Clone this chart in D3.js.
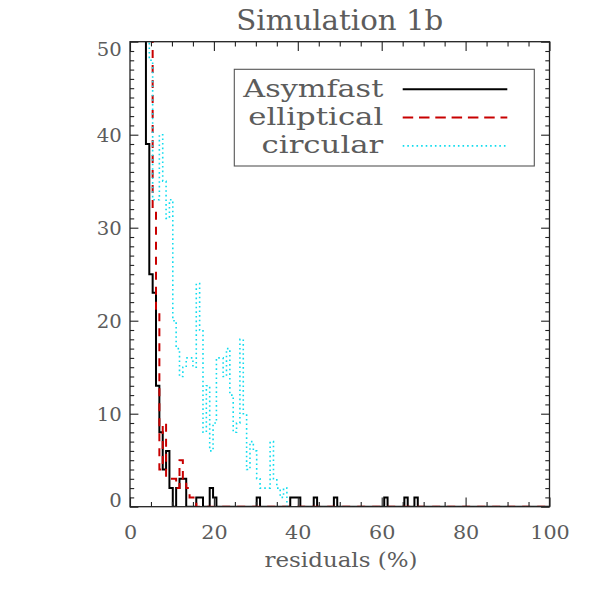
<!DOCTYPE html>
<html><head><meta charset="utf-8">
<script src="https://cdn.jsdelivr.net/npm/d3@7"></script>
<style>body{margin:0;background:#fff}</style>
</head><body>
<svg id="c" width="591" height="591"></svg>
<script>
// ---- data ----
const title = "Simulation 1b";
const xLabel = "residuals (%)";
const seriesNames = ["Asymfast", "elliptical", "circular"];
const binOrigin = 0.6;   // left edge of first histogram bin (%)
const binWidth = 0.8;    // histogram bin width (%)
const asymfast = [
  55,55,55,55,39,25,23,13,8,4,
  6,2,0,2,3,3,0,0,0,1,
  1,0,0,2,1,0,0,0,0,0,
  0,0,0,0,0,0,0,1,0,0,
  0,0,0,0,0,0,0,1,1,1,
  0,0,0,0,1,0,0,0,0,0,
  1,0,0,0,0,0,0,0,0,0,
  0,0,0,0,0,1,0,0,0,0,
  0,1,0,0,1,0,0,0,0,0,
  0,0,0,0,0,0,0,0,0,0,
  0,0,0,0,0,0,0,0,0,0,
  0,0,0,0,0,0,0,0,0,0,
  0,0,0,0,0
];
const elliptical = [
  55,55,55,55,55,55,32,21,4,9,
  3,3,3,2,5,3,2,1,1,0,
  0,0,0,0,0,0,0,0,0,0,
  0,0,0,0,0,0,0,0,0,0,
  0,0,0,0,0,0,0,0,0,0,
  0,0,0,0,0,0,0,0,0,0,
  0,0,0,0,0,0,0,0,0,0,
  0,0,0,0,0,0,0,0,0,0,
  0,0,0,0,0,0,0,0,0,0,
  0,0,0,0,0,0,0,0,0,0,
  0,0,0,0,0,0,0,0,0,0,
  0,0,0,0,0,0,0,0,0,0,
  0,0,0,0,0
];
const circular = [
  55,55,55,55,55,48,33,33,40,35,
  31,33,20,17,14,15,16,16,15,24,
  19,8,13,6,9,16,16,14,17,12,
  8,9,18,10,4,7,6,3,2,2,
  2,7,3,2,1,2,0,0,0,0,
  0,0,0,0,0,0,0,0,0,0,
  0,0,0,0,0,0,0,0,0,0,
  0,0,0,0,0,0,0,0,0,0,
  0,0,0,0,0,0,0,0,0,0,
  0,0,0,0,0,0,0,0,0,0,
  0,0,0,0,0,0,0,0,0,0,
  0,0,0,0,0,0,0,0,0,0,
  0,0,0,0,0
];
const xTicks = [0, 20, 40, 60, 80, 100];
const xMinorTicks = [5,10,15,25,30,35,45,50,55,65,70,75,85,90,95];
const yTicks = [0, 10, 20, 30, 40, 50];
const yMinorTicks = [1,2,3,4,5,6,7,8,9,11,12,13,14,15,16,17,18,19,21,22,23,24,25,26,27,28,29,
                     31,32,33,34,35,36,37,38,39,41,42,43,44,45,46,47,48,49];

// ---- drawing ----
const FONT = "'DejaVu Serif', serif";
const TXT = "#5c5c5c";
const svg = d3.select("#c");
svg.append("rect").attr("width", 591).attr("height", 591).attr("fill", "#fff");

const x = d3.scaleLinear().domain([0, 100]).range([130, 549.5]);
const y = d3.scaleLinear().domain([0, 50]).range([506.7, 41.7]);

svg.append("defs").append("clipPath").attr("id", "clip").append("rect")
  .attr("x", x(0)).attr("y", y(50))
  .attr("width", x(100) - x(0)).attr("height", y(0) - y(50));

const styles = [
  {name: seriesNames[0], data: asymfast,   color: "#000000", width: 2,   dash: null},
  {name: seriesNames[1], data: elliptical, color: "#c80000", width: 2,   dash: "8,7"},
  {name: seriesNames[2], data: circular,   color: "#10dcee", width: 1.6, dash: "1.6,3"}
];

const line = d3.line().x(d => x(d[0])).y(d => y(d[1])).curve(d3.curveStepAfter);
function pts(counts) {
  const p = counts.map((c, i) => [binOrigin + i * binWidth, c]);
  p.push([binOrigin + counts.length * binWidth, counts[counts.length - 1]]);
  return p;
}

const plot = svg.append("g").attr("clip-path", "url(#clip)");
styles.forEach(s => {
  plot.append("path").datum(pts(s.data))
    .attr("d", line).attr("fill", "none")
    .attr("stroke", s.color).attr("stroke-width", s.width)
    .attr("stroke-dasharray", s.dash);
});

// axes
const axCol = "#222";
function styleAxis(g) {
  g.select(".domain").remove();
  g.selectAll("line").attr("stroke", axCol).attr("stroke-width", 1.1);
}
// bottom
const gB = svg.append("g").attr("transform", `translate(0,${y(0)})`)
  .call(d3.axisBottom(x).tickValues(xTicks).tickSize(-9.3).tickFormat(d3.format("d")));
styleAxis(gB);
gB.selectAll("text").attr("y", 32.6).attr("dy", null)
  .attr("font-family", FONT).attr("font-size", 18).attr("fill", TXT)
  .attr("textLength", function(d){ return String(d).length * 13.2; })
  .attr("lengthAdjust", "spacingAndGlyphs");
svg.append("g").attr("transform", `translate(0,${y(0)})`)
  .call(d3.axisBottom(x).tickValues(xMinorTicks).tickSize(-4.7).tickFormat(""))
  .call(styleAxis);
// top
svg.append("g").attr("transform", `translate(0,${y(50)})`)
  .call(d3.axisTop(x).tickValues(xTicks).tickSize(-9.3).tickFormat("")).call(styleAxis);
svg.append("g").attr("transform", `translate(0,${y(50)})`)
  .call(d3.axisTop(x).tickValues(xMinorTicks).tickSize(-4.7).tickFormat("")).call(styleAxis);
// left
const gL = svg.append("g").attr("transform", `translate(${x(0)},0)`)
  .call(d3.axisLeft(y).tickValues(yTicks).tickSize(-8.4).tickPadding(8.3).tickFormat(d3.format("d")));
styleAxis(gL);
gL.selectAll("text").attr("x", -8.3)
  .attr("dy", d => d === 0 ? 0 : (d === 50 ? 13.3 : 7))
  .attr("font-family", FONT).attr("font-size", 18).attr("fill", TXT)
  .attr("textLength", function(d){ return String(d).length * 12.5; })
  .attr("lengthAdjust", "spacingAndGlyphs");
svg.append("g").attr("transform", `translate(${x(0)},0)`)
  .call(d3.axisLeft(y).tickValues(yMinorTicks).tickSize(-4.2).tickFormat("")).call(styleAxis);
// right
svg.append("g").attr("transform", `translate(${x(100)},0)`)
  .call(d3.axisRight(y).tickValues(yTicks).tickSize(-8.4).tickFormat("")).call(styleAxis);
svg.append("g").attr("transform", `translate(${x(100)},0)`)
  .call(d3.axisRight(y).tickValues(yMinorTicks).tickSize(-4.2).tickFormat("")).call(styleAxis);

// frame
svg.append("rect").attr("x", x(0)).attr("y", y(50))
  .attr("width", x(100) - x(0)).attr("height", y(0) - y(50))
  .attr("fill", "none").attr("stroke", axCol).attr("stroke-width", 1.3);

// title
svg.append("text").attr("x", (x(0) + x(100)) / 2).attr("y", 30)
  .attr("text-anchor", "middle").attr("font-family", FONT).attr("font-size", 27)
  .attr("fill", TXT).attr("textLength", 207).attr("lengthAdjust", "spacingAndGlyphs")
  .text(title);
// x label
svg.append("text").attr("x", 341).attr("y", 566.7)
  .attr("text-anchor", "middle").attr("font-family", FONT).attr("font-size", 20)
  .attr("fill", TXT).attr("textLength", 153).attr("lengthAdjust", "spacingAndGlyphs")
  .text(xLabel);

// legend
const lg = svg.append("g");
lg.append("rect").attr("x", 234.3).attr("y", 69.3).attr("width", 300).attr("height", 96.7)
  .attr("fill", "#fff").attr("stroke", "#555").attr("stroke-width", 1.1);
const legendWidths = [140, 135, 121.7];
styles.forEach((s, i) => {
  const by = 96.7 + i * 28.3;
  lg.append("text").attr("x", 383.3).attr("y", by).attr("text-anchor", "end")
    .attr("font-family", FONT).attr("font-size", 25).attr("fill", TXT)
    .attr("textLength", legendWidths[i]).attr("lengthAdjust", "spacingAndGlyphs")
    .text(s.name);
  lg.append("line").attr("x1", 402.7).attr("x2", 507.3)
    .attr("y1", by - 7.4).attr("y2", by - 7.4)
    .attr("stroke", s.color).attr("stroke-width", s.width)
    .attr("stroke-dasharray", s.dash === "8,7" ? "10.5,5.8" : s.dash);
});
</script>
</body></html>
